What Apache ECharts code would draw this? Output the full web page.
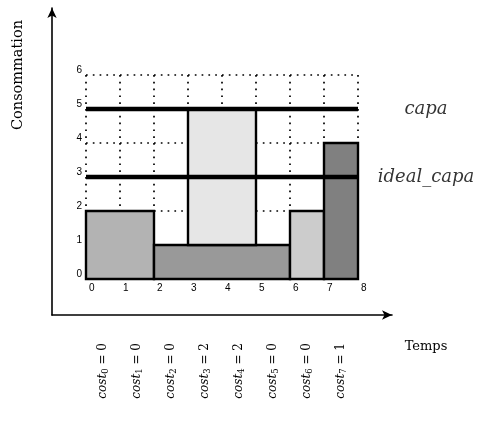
<!DOCTYPE html>
<html>
<head>
<meta charset="utf-8">
<script src="https://cdn.jsdelivr.net/npm/echarts@6/dist/echarts.min.js"></script>
<style>
html,body{margin:0;padding:0;background:#fff;}
#c{width:482px;height:424px;}
</style>
</head>
<body>
<div id="c"></div>
<script>
// ---- data ----
const timeMin = 0, timeMax = 8;
const consoMin = 0, consoMax = 6;
const taskStart = [0, 2, 3, 6, 7];
const taskEnd   = [2, 6, 5, 7, 8];
const taskLow   = [0, 0, 1, 0, 0];
const taskHigh  = [2, 1, 5, 2, 4];
const capa = 5;
const idealCapa = 3;
const costs = [0, 0, 0, 2, 2, 0, 0, 1];
const capaLabels = ['capa', 'ideal_capa'];
const capaLabelX = 10;

// ---- styles ----
const taskColors = ['#b3b3b3', '#999999', '#e6e6e6', '#cccccc', '#808080'];
const serif = '"DejaVu Serif", "Liberation Serif", serif';

const chart = echarts.init(document.getElementById('c'), null, {renderer: 'canvas'});

const rectData = taskStart.map((s, i) => [s, taskEnd[i], taskLow[i], taskHigh[i], i]);

const option = {
  animation: false,
  backgroundColor: '#fff',
  grid: [
    {left: 86, right: 124, top: 75, bottom: 145},
    {left: 52, right: 90, top: 8, bottom: 109}
  ],
  xAxis: [
    {
      type: 'value', gridIndex: 0, min: timeMin, max: timeMax, interval: 1,
      axisLine: {show: false}, axisTick: {show: false},
      axisLabel: {fontSize: 10, color: '#000', fontFamily: '"Liberation Sans", Arial, sans-serif',
                  align: 'left', padding: [0, 0, 0, 3], margin: 4},
      splitLine: {show: true, lineStyle: {color: '#000', width: 1.7, type: [1.7, 5.1], cap: 'butt'}}
    },
    {
      type: 'category', gridIndex: 0, position: 'bottom', boundaryGap: true,
      data: costs.map((c, i) => i),
      axisLine: {show: false}, axisTick: {show: false}, splitLine: {show: false},
      axisLabel: {
        rotate: 90, margin: 64, interval: 0,
        formatter: (v, i) => '{c|cost}{s|' + i + '}{e| = ' + costs[i] + '}',
        rich: {
          c: {fontFamily: serif, fontStyle: 'italic', fontSize: 12, color: '#000'},
          s: {fontFamily: serif, fontSize: 8.5, color: '#000', verticalAlign: 'bottom', padding: [6, 0, 0, 0]},
          e: {fontFamily: serif, fontSize: 12, color: '#000'}
        }
      }
    },
    {
      type: 'value', gridIndex: 1, min: 0, max: 1,
      axisLine: {show: true, symbol: ['none', 'arrow'], symbolSize: [7, 10], lineStyle: {color: '#000', width: 1.6}},
      axisTick: {show: false}, axisLabel: {show: false}, splitLine: {show: false}
    }
  ],
  yAxis: [
    {
      type: 'value', gridIndex: 0, min: consoMin, max: consoMax, interval: 1,
      axisLine: {show: false}, axisTick: {show: false},
      axisLabel: {fontSize: 10, color: '#000', fontFamily: '"Liberation Sans", Arial, sans-serif',
                  verticalAlign: 'bottom', margin: 4},
      splitLine: {show: true, lineStyle: {color: '#000', width: 1.7, type: [1.7, 5.1], cap: 'butt'}}
    },
    {
      type: 'value', gridIndex: 1, min: 0, max: 1,
      axisLine: {show: true, symbol: ['none', 'arrow'], symbolSize: [7, 10], lineStyle: {color: '#000', width: 1.6}},
      axisTick: {show: false}, axisLabel: {show: false}, splitLine: {show: false}
    }
  ],
  graphic: [
    {type: 'text', x: 18, y: 75, rotation: Math.PI / 2,
     style: {text: 'Consommation', font: '14.5px ' + serif, fill: '#000', align: 'center', verticalAlign: 'middle'}},
    {type: 'text', x: 426, y: 347,
     style: {text: 'Temps', font: '13px ' + serif, fill: '#000', align: 'center', verticalAlign: 'middle'}}
  ],
  series: [
    {
      type: 'custom', xAxisIndex: 0, yAxisIndex: 0, z: 3,
      data: rectData,
      renderItem: (params, api) => {
        const p0 = api.coord([api.value(0), api.value(3)]);
        const p1 = api.coord([api.value(1), api.value(2)]);
        return {
          type: 'rect',
          shape: {x: p0[0], y: p0[1], width: p1[0] - p0[0], height: p1[1] - p0[1]},
          style: {fill: taskColors[api.value(4)], stroke: '#000', lineWidth: 2.4}
        };
      }
    },
    {
      type: 'line', xAxisIndex: 0, yAxisIndex: 0, z: 5, symbol: 'none',
      data: [[timeMin, capa], [timeMax, capa]],
      lineStyle: {color: '#000', width: 4.5}
    },
    {
      type: 'line', xAxisIndex: 0, yAxisIndex: 0, z: 5, symbol: 'none',
      data: [[timeMin, idealCapa], [timeMax, idealCapa]],
      lineStyle: {color: '#000', width: 4.5}
    },
    {
      type: 'scatter', xAxisIndex: 0, yAxisIndex: 0, z: 6, symbolSize: 0, clip: false,
      data: [[capaLabelX, capa, capaLabels[0]], [capaLabelX, idealCapa, capaLabels[1]]],
      label: {
        show: true, position: 'inside', formatter: p => p.value[2],
        fontFamily: serif, fontStyle: 'italic', fontSize: 18, color: '#000'
      }
    }
  ]
};
chart.setOption(option);
</script>
</body>
</html>
